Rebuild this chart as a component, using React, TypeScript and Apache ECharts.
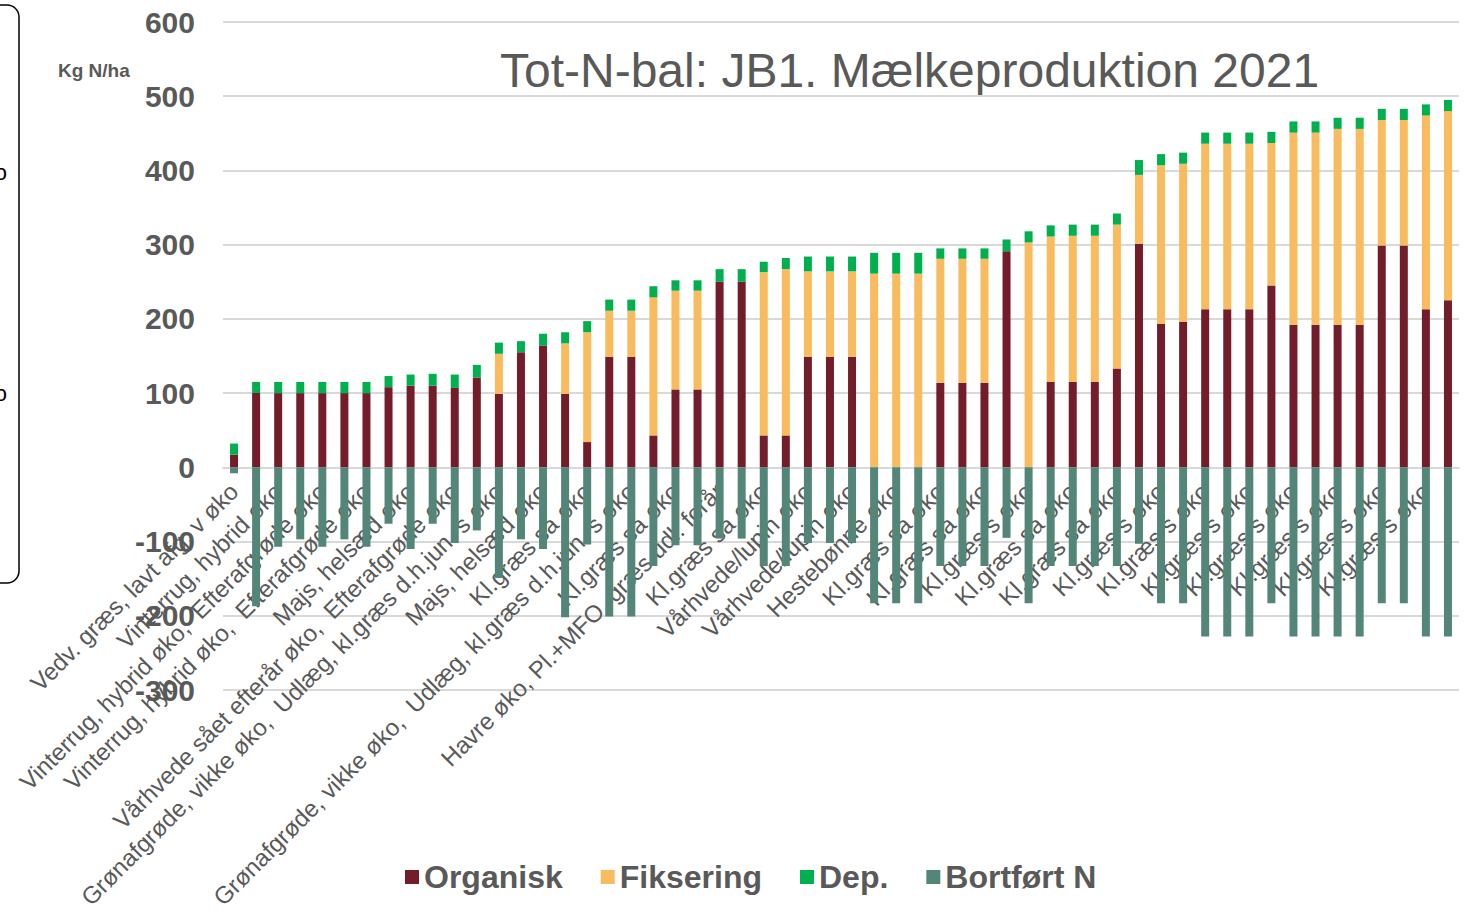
import React, { useEffect, useRef } from "react";
import * as echarts from "echarts";

const categories: string[] = [
  "Vedv. græs, lavt afg. v øko",
  "Vinterrug, hybrid øko",
  "Vinterrug, hybrid øko",
  "Vinterrug, hybrid øko,  Efterafgrøde øko",
  "Vinterrug, hybrid øko,  Efterafgrøde øko",
  "Vinterrug, hybrid øko,  Efterafgrøde øko",
  "Vinterrug, hybrid øko,  Efterafgrøde øko",
  "Majs, helsæd øko",
  "Majs, helsæd øko",
  "Vårhvede sået efterår øko,  Efterafgrøde øko",
  "Vårhvede sået efterår øko,  Efterafgrøde øko",
  "Grønafgrøde, vikke øko,  Udlæg, kl.græs d.h.jun. s øko",
  "Grønafgrøde, vikke øko,  Udlæg, kl.græs d.h.jun. s øko",
  "Majs, helsæd øko",
  "Majs, helsæd øko",
  "Kl.græs sa øko",
  "Kl.græs sa øko",
  "Grønafgrøde, vikke øko,  Udlæg, kl.græs d.h.jun. s øko",
  "Grønafgrøde, vikke øko,  Udlæg, kl.græs d.h.jun. s øko",
  "Kl.græs sa øko",
  "Kl.græs sa øko",
  "Havre øko, Pl.+MFO, græs udl. forår",
  "Havre øko, Pl.+MFO, græs udl. forår",
  "Kl.græs sa øko",
  "Kl.græs sa øko",
  "Vårhvede/lupin øko",
  "Vårhvede/lupin øko",
  "Vårhvede/lupin øko",
  "Vårhvede/lupin øko",
  "Hestebønne øko",
  "Hestebønne øko",
  "Kl.græs sa øko",
  "Kl.græs sa øko",
  "Kl.græs sa øko",
  "Kl.græs sa øko",
  "Kl.græs s øko",
  "Kl.græs s øko",
  "Kl.græs sa øko",
  "Kl.græs sa øko",
  "Kl.græs sa øko",
  "Kl.græs sa øko",
  "Kl.græs s øko",
  "Kl.græs s øko",
  "Kl.græs s øko",
  "Kl.græs s øko",
  "Kl.græs s øko",
  "Kl.græs s øko",
  "Kl.græs s øko",
  "Kl.græs s øko",
  "Kl.græs s øko",
  "Kl.græs s øko",
  "Kl.græs s øko",
  "Kl.græs s øko",
  "Kl.græs s øko",
  "Kl.græs s øko",
  "Kl.græs s øko",
];

const organisk: number[] = [
  17, 100, 100, 100, 100, 100, 100, 108, 110, 110,
  107, 121, 99, 155, 164, 99, 34, 149, 149, 43,
  105, 105, 250, 250, 43, 43, 149, 149, 149, 0,
  0, 0, 114, 114, 114, 291, 0, 115, 115, 115,
  133, 301, 193, 196, 213, 213, 213, 245, 192, 192,
  192, 192, 299, 299, 213, 225,
];

const fiksering: number[] = [
  0, 0, 0, 0, 0, 0, 0, 0, 0, 0,
  0, 0, 54, 0, 0, 68, 148, 62, 62, 186,
  133, 133, 0, 0, 220, 224, 115, 115, 115, 261,
  261, 261, 167, 167, 167, 0, 303, 196, 197, 197,
  194, 93, 214, 213, 223, 223, 223, 192, 259, 259,
  264, 264, 169, 169, 261, 255,
];

const dep: number[] = [
  15, 15, 15, 15, 15, 15, 15, 15, 15, 16,
  18, 17, 15, 15, 16, 15, 15, 15, 15, 15,
  14, 14, 17, 17, 14, 15, 20, 20, 20, 28,
  28, 28, 14, 14, 14, 16, 15, 15, 15, 15,
  15, 20, 15, 15, 15, 15, 15, 15, 15, 15,
  15, 15, 15, 15, 15, 15,
];

const bortfoert: number[] = [
  -8, -187, -107, -97, -107, -97, -107, -76, -110, -76,
  -102, -85, -149, -97, -110, -202, -104, -201, -201, -133,
  -105, -105, -96, -96, -133, -133, -102, -102, -102, -183,
  -183, -183, -133, -133, -133, -95, -183, -133, -133, -133,
  -133, -103, -183, -183, -228, -228, -228, -183, -228, -228,
  -228, -228, -183, -183, -228, -228,
];

const seriesNames: string[] = ["Organisk", "Fiksering", "Dep.", "Bortført N"];
const seriesColors: string[] = ["#741d2a", "#f8bb5e", "#00b04f", "#548579"];

const titleText = "Tot-N-bal: JB1. Mælkeproduktion 2021";
const unitText = "Kg N/ha";

const FONT = "'Liberation Sans', Arial, sans-serif";
const GREY = "#595959";

const Y_MIN = -300;
const Y_MAX = 600;
const GRID_TOP = 22;
const GRID_BOTTOM = 220;
const CHART_H = 910;

export default function App() {
  const ref = useRef<HTMLDivElement | null>(null);

  useEffect(() => {
    if (!ref.current) return;
    const chart = echarts.init(ref.current, undefined, { renderer: "svg" });
    const values = [organisk, fiksering, dep, bortfoert];
    const gridH = CHART_H - GRID_TOP - GRID_BOTTOM;
    // distance from grid bottom up to the zero line
    const zeroOffset = (gridH * (0 - Y_MIN)) / (Y_MAX - Y_MIN);
    const option: any = {
      animation: false,
      backgroundColor: "#ffffff",
      textStyle: { fontFamily: FONT },
      grid: {
        left: 223,
        right: 6,
        top: GRID_TOP,
        bottom: GRID_BOTTOM,
        containLabel: false,
        outerBoundsMode: "none",
      },
      legend: {
        data: seriesNames,
        left: 400,
        top: 856,
        icon: "rect",
        itemWidth: 14,
        itemHeight: 14,
        itemGap: 38,
        textStyle: { fontSize: 32, fontWeight: "bold", color: GREY, fontFamily: FONT },
      },
      xAxis: {
        type: "category",
        data: categories,
        position: "bottom",
        offset: -zeroOffset,
        axisLine: { show: true, onZero: false, lineStyle: { color: "#d9d9d9", width: 2 } },
        axisTick: { show: false },
        axisLabel: {
          interval: 1,
          rotate: 45,
          margin: 20,
          fontSize: 24,
          color: GREY,
          fontFamily: FONT,
        },
      },
      yAxis: {
        type: "value",
        min: Y_MIN,
        max: Y_MAX,
        interval: 100,
        axisLine: { show: false },
        axisTick: { show: false },
        axisLabel: {
          fontSize: 30,
          fontWeight: "bold",
          color: GREY,
          margin: 28,
          fontFamily: FONT,
        },
        splitLine: { lineStyle: { color: "#d9d9d9", width: 2 } },
      },
      series: seriesNames.map((name, i) => ({
        name,
        type: "bar",
        stack: "total",
        barWidth: 8,
        data: values[i],
        itemStyle: { color: seriesColors[i] },
      })),
      graphic: [
        {
          type: "rect",
          shape: { x: -200, y: 5, width: 219, height: 578, r: 12 },
          style: { fill: "none", stroke: "#000000", lineWidth: 1.5 },
        },
        {
          type: "text",
          x: 7,
          y: 172,
          style: { text: "o", fontSize: 22, fontFamily: FONT, fill: "#000", align: "right", verticalAlign: "middle" },
        },
        {
          type: "text",
          x: 7,
          y: 393,
          style: { text: "o", fontSize: 22, fontFamily: FONT, fill: "#000", align: "right", verticalAlign: "middle" },
        },
        {
          type: "text",
          x: 500,
          y: 70,
          style: {
            text: titleText,
            fontSize: 48,
            fontFamily: FONT,
            fill: GREY,
            verticalAlign: "middle",
          },
        },
        {
          type: "text",
          x: 58,
          y: 70,
          style: {
            text: unitText,
            fontSize: 19,
            fontWeight: "bold",
            fontFamily: FONT,
            fill: GREY,
            verticalAlign: "middle",
          },
        },
      ],
    };
    chart.setOption(option);
    return () => chart.dispose();
  }, []);

  return (
    <div
      ref={ref}
      style={{ position: "fixed", left: 0, top: 0, width: 1465, height: 910, background: "#fff" }}
    />
  );
}
